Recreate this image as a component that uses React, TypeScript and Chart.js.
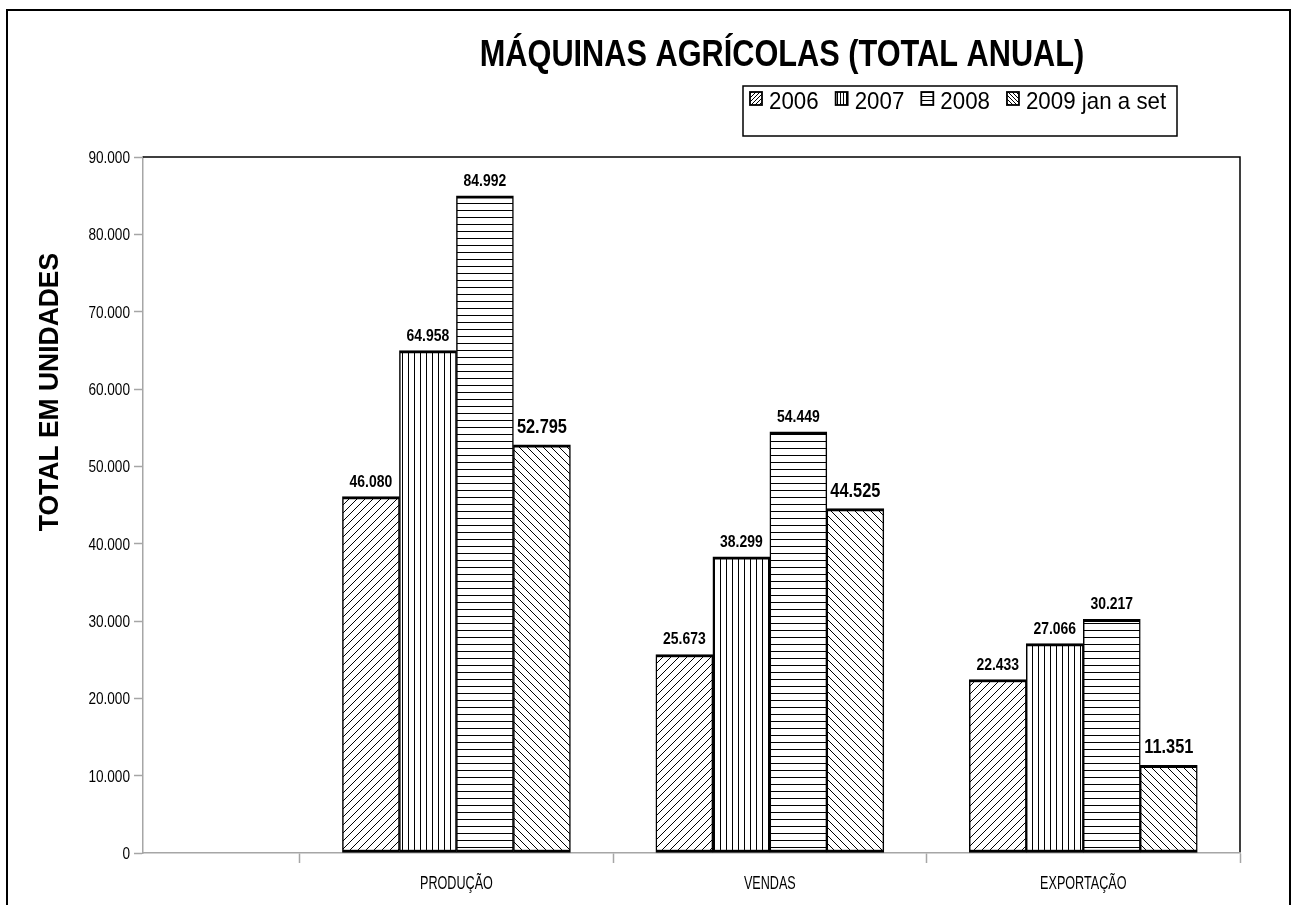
import { useEffect, useRef } from 'react';
import { Chart, registerables } from 'chart.js';

Chart.register(...registerables);

const categories = ['PRODUÇÃO', 'VENDAS', 'EXPORTAÇÃO'];
const seriesLabels = ['2006', '2007', '2008', '2009 jan a set'];
const values2006 = [46080, 25673, 22433];
const values2007 = [64958, 38299, 27066];
const values2008 = [84992, 54449, 30217];
const values2009 = [52795, 44525, 11351];
const yMax = 90000;
const yStep = 10000;
const xTickPositions = [0, 0.5, 1, 1.5, 2, 2.5, 3, 3.5];
const chartTitle = 'MÁQUINAS AGRÍCOLAS (TOTAL ANUAL)';
const yTitle = 'TOTAL EM UNIDADES';

const SANS = '"Liberation Sans", Arial, Helvetica, sans-serif';
const patternKinds = ['f', 'v', 'h', 'b'];

const fmt = (v: number) => Math.round(v).toString().replace(/\B(?=(\d{3})+(?!\d))/g, '.');

function drawText(
  ctx: CanvasRenderingContext2D,
  text: string,
  x: number,
  y: number,
  font: string,
  sx: number,
  align: CanvasTextAlign,
  baseline: CanvasTextBaseline = 'alphabetic',
) {
  ctx.save();
  ctx.font = font;
  ctx.textAlign = align;
  ctx.textBaseline = baseline;
  ctx.fillStyle = '#000';
  ctx.translate(x, y);
  ctx.scale(sx, 1);
  ctx.fillText(text, 0, 0);
  ctx.restore();
}

function measure(ctx: CanvasRenderingContext2D, text: string, font: string, sx: number) {
  ctx.save();
  ctx.font = font;
  const w = ctx.measureText(text).width * sx;
  ctx.restore();
  return w;
}

function makePattern(ctx: CanvasRenderingContext2D, kind: string, scale = 1) {
  const base = kind === 'v' ? 6 : kind === 'h' ? 7 : 8;
  const s = Math.max(3, Math.round(base * scale));
  const c = document.createElement('canvas');
  c.width = s;
  c.height = s;
  const g = c.getContext('2d') as CanvasRenderingContext2D;
  g.fillStyle = '#fff';
  g.fillRect(0, 0, s, s);
  g.strokeStyle = '#000';
  g.lineWidth = 1;
  g.beginPath();
  if (kind === 'v') {
    g.moveTo(0.5, 0);
    g.lineTo(0.5, s);
  } else if (kind === 'h') {
    g.moveTo(0, 0.5);
    g.lineTo(s, 0.5);
  } else if (kind === 'f') {
    g.moveTo(0, s);
    g.lineTo(s, 0);
    g.moveTo(-1, 1);
    g.lineTo(1, -1);
    g.moveTo(s - 1, s + 1);
    g.lineTo(s + 1, s - 1);
  } else {
    g.moveTo(0, 0);
    g.lineTo(s, s);
    g.moveTo(-1, s - 1);
    g.lineTo(1, s + 1);
    g.moveTo(s - 1, -1);
    g.lineTo(s + 1, 1);
  }
  g.stroke();
  return ctx.createPattern(c, 'repeat') as CanvasPattern;
}

const decorPlugin = {
  id: 'decor',
  beforeDraw(chart: any) {
    const ctx = chart.ctx;
    ctx.save();
    ctx.fillStyle = '#fff';
    ctx.fillRect(0, 0, chart.width, chart.height);
    ctx.restore();
  },
  afterDatasetsDraw(chart: any) {
    const ctx = chart.ctx;
    chart.data.datasets.forEach((ds: any, di: number) => {
      const meta = chart.getDatasetMeta(di);
      const big = di === 3;
      const font = big ? `bold 21px ${SANS}` : `bold 17px ${SANS}`;
      meta.data.forEach((bar: any, i: number) => {
        const v = ds.data[i].y;
        drawText(ctx, fmt(v), bar.x, bar.y - (big ? 12 : 10), font, big ? 0.78 : 0.82, 'center');
      });
    });
  },
  afterDraw(chart: any) {
    const ctx = chart.ctx;
    const a = chart.chartArea;
    const xs = chart.scales.x;
    const ys = chart.scales.y;
    ctx.save();
    // plot area top / right border
    ctx.strokeStyle = '#000';
    ctx.lineWidth = 1.5;
    ctx.beginPath();
    ctx.moveTo(a.left, a.top);
    ctx.lineTo(a.right, a.top);
    ctx.lineTo(a.right, a.bottom - 1);
    ctx.stroke();
    // outer frame
    ctx.lineWidth = 2;
    ctx.beginPath();
    ctx.moveTo(7, chart.height + 5);
    ctx.lineTo(7, 10);
    ctx.lineTo(1290, 10);
    ctx.lineTo(1290, chart.height + 5);
    ctx.stroke();
    ctx.restore();

    // y tick labels
    ys.ticks.forEach((t: any) => {
      drawText(ctx, fmt(t.value), a.left - 13, ys.getPixelForValue(t.value) + 6, `16px ${SANS}`, 0.85, 'right');
    });
    // x category labels
    categories.forEach((c, i) => {
      drawText(ctx, c, xs.getPixelForValue(i + 1), a.bottom + 36, `18px ${SANS}`, 0.7, 'center');
    });

    // title
    drawText(ctx, chartTitle, 782, 66, `bold 37px ${SANS}`, 0.83, 'center');
    // y title
    ctx.save();
    ctx.translate(58, 392);
    ctx.rotate(-Math.PI / 2);
    drawText(ctx, yTitle, 0, 0, `bold 27px ${SANS}`, 0.98, 'center');
    ctx.restore();

    // legend
    ctx.save();
    ctx.strokeStyle = '#000';
    ctx.lineWidth = 1.5;
    ctx.strokeRect(743, 86, 434, 50);
    const lf = `24px ${SANS}`;
    let x = 750;
    chart.data.datasets.forEach((ds: any, di: number) => {
      ctx.fillStyle = makePattern(ctx, patternKinds[di], 0.55);
      ctx.fillRect(x, 92, 12, 13);
      ctx.lineWidth = 1.8;
      ctx.strokeRect(x, 92, 12, 13);
      drawText(ctx, ds.label, x + 19, 109, lf, 0.93, 'left');
      x += 19 + measure(ctx, ds.label, lf, 0.93) + 17;
    });
    ctx.restore();
  },
};

export default function App() {
  const ref = useRef<HTMLCanvasElement>(null);
  useEffect(() => {
    document.body.style.margin = '0';
    const canvas = ref.current as HTMLCanvasElement;
    const ctx = canvas.getContext('2d') as CanvasRenderingContext2D;
    const series = [values2006, values2007, values2008, values2009];
    const chart = new Chart(canvas, {
      type: 'bar',
      data: {
        datasets: series.map((vals, di) => ({
          label: seriesLabels[di],
          data: vals.map((v, i) => ({ x: i + 1, y: v })),
          backgroundColor: makePattern(ctx, patternKinds[di]),
          borderColor: '#000',
          borderWidth: { top: 3, bottom: 3, left: 1.5, right: 1.5 },
          borderSkipped: false,
          barThickness: 57,
        })),
      },
      options: {
        responsive: false,
        animation: false,
        devicePixelRatio: 1,
        layout: { padding: { top: 157, right: 52, left: 0, bottom: 0 } },
        plugins: {
          legend: { display: false },
          title: { display: false },
          tooltip: { enabled: false },
        },
        scales: {
          x: {
            type: 'linear',
            min: 0,
            max: 3.5,
            offset: false,
            afterBuildTicks: (scale: any) => {
              scale.ticks = xTickPositions.map((v) => ({ value: v }));
            },
            afterFit: (scale: any) => {
              scale.height = 52;
            },
            grid: {
              offset: false,
              drawOnChartArea: false,
              drawTicks: true,
              tickLength: 10,
              tickColor: (c: any) =>
                c.tick && (Number.isInteger(c.tick.value) ? 'rgba(0,0,0,0)' : '#a6a6a6'),
              tickWidth: 1.5,
            },
            border: { color: '#a6a6a6', width: 1.5 },
            ticks: { display: false, autoSkip: false, maxRotation: 0 },
          },
          y: {
            min: 0,
            max: yMax,
            afterFit: (scale: any) => {
              scale.width = 143;
            },
            grid: {
              drawOnChartArea: false,
              drawTicks: true,
              tickLength: 9,
              tickColor: '#a6a6a6',
              tickWidth: 1.5,
            },
            border: { color: '#a6a6a6', width: 1.5 },
            ticks: { display: false, stepSize: yStep },
          },
        },
      },
      plugins: [decorPlugin],
    } as any);
    return () => chart.destroy();
  }, []);
  return <canvas ref={ref} width={1292} height={905} style={{ display: 'block', width: 1292, height: 905 }} />;
}
